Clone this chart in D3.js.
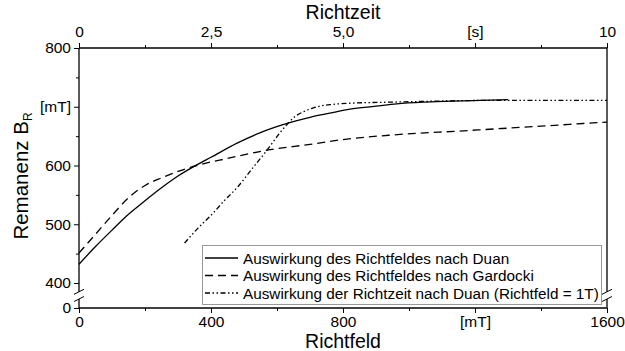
<!DOCTYPE html>
<html><head><meta charset="utf-8">
<script src="https://cdn.jsdelivr.net/npm/d3@7"></script>
<style>
body{margin:0;background:#fff;}
svg{display:block;font-family:"Liberation Sans",Arial,sans-serif;}
</style></head>
<body><svg id="c" width="625" height="351"></svg>
<script>
// Data
const fieldTicks = [0, 400, 800, 1200, 1600];
const fieldTickLabels = ["0", "400", "800", "[mT]", "1600"];
const fieldMinor = [200, 600, 1000, 1400];
const timeTicks = [0, 2.5, 5, 7.5, 10];
const timeTickLabels = ["0", "2,5", "5,0", "[s]", "10"];
const timeMinor = [1.25, 3.75, 6.25, 8.75];
const remTicks = [400, 500, 600, 700, 800];
const remTickLabels = ["400", "500", "600", "[mT]", "800"];
const remMinor = [450, 550, 650, 750];

// Auswirkung des Richtfeldes nach Duan (x: Richtfeld mT)
const duanFieldX = [0, 50, 100, 150, 200, 250, 300, 357, 400, 479, 550, 633, 700, 760, 821, 900, 963, 1050, 1164, 1300];
const duanFieldY = [432, 462, 490, 517, 540, 562, 582, 601, 614, 638, 656, 672, 682, 689, 696, 701, 705, 708, 710, 712];
// Auswirkung des Richtfeldes nach Gardocki (x: Richtfeld mT)
const gardockiX = [0, 50, 100, 150, 200, 250, 300, 357, 450, 570, 700, 812, 950, 1164, 1400, 1600];
const gardockiY = [451, 483, 515, 545, 566, 579, 590, 600, 612, 626, 636, 645, 652, 659, 667, 674];
// Auswirkung der Richtzeit nach Duan (x: Richtzeit s)
const duanTimeX = [2.0, 2.25, 2.54, 2.75, 3.0, 3.3, 3.56, 3.8, 3.96, 4.1, 4.24, 4.56, 4.8, 5.13, 6.0, 7.0, 8.0, 9.0, 10];
const duanTimeY = [468, 493, 519, 540, 563, 597, 626, 655, 672, 684, 691, 701, 704, 706, 708, 710, 711, 711, 711];

const legendLabels = [
  "Auswirkung des Richtfeldes nach Duan",
  "Auswirkung des Richtfeldes nach Gardocki",
  "Auswirkung der Richtzeit nach Duan (Richtfeld = 1T)"
];
const dashes = [null, "8,5", "5,2.5,1.5,2.5,1.5,2.5"];

const L = 79, R = 607, T = 48, B = 308;
const svg = d3.select("#c");
const x = d3.scaleLinear().domain([0, 1600]).range([L, R]);
const xt = d3.scaleLinear().domain([0, 10]).range([L, R]);
const y = d3.scaleLinear().domain([400, 800]).range([283, T]);
const yLow = d3.scaleLinear().domain([0, 10]).range([B, 302]);
const breakTop = y(385), breakBot = 299;

const line = d3.line().x(d => d[0]).y(d => d[1]).curve(d3.curveMonotoneX);
function pts(xs, ys, sx) { return xs.map((v, i) => [sx(v), y(ys[i])]); }

const series = [
  pts(duanFieldX, duanFieldY, x),
  pts(gardockiX, gardockiY, x),
  pts(duanTimeX, duanTimeY, xt)
];
series.forEach((s, i) => {
  svg.append("path").attr("d", line(s)).attr("fill", "none")
    .attr("stroke", "#000").attr("stroke-width", 1.3)
    .attr("stroke-dasharray", dashes[i]);
});

function styleAxis(g) {
  g.select(".domain").remove();
  g.selectAll(".tick line").attr("stroke", "#000").attr("stroke-width", 1);
  g.selectAll("text").attr("font-size", 15.5).attr("fill", "#000")
    .attr("font-family", "Liberation Sans, Arial, sans-serif");
}
// bottom
svg.append("g").attr("transform", `translate(0,${B})`)
  .call(d3.axisBottom(x).tickValues(fieldTicks).tickSize(5).tickPadding(3)
    .tickFormat((d, i) => fieldTickLabels[i])).call(styleAxis);
svg.append("g").attr("transform", `translate(0,${B})`)
  .call(d3.axisBottom(x).tickValues(fieldMinor).tickSize(3).tickFormat("")).call(styleAxis);
// top
svg.append("g").attr("transform", `translate(0,${T})`)
  .call(d3.axisTop(xt).tickValues(timeTicks).tickSize(5).tickPadding(6.5)
    .tickFormat((d, i) => timeTickLabels[i])).call(styleAxis);
svg.append("g").attr("transform", `translate(0,${T})`)
  .call(d3.axisTop(xt).tickValues(timeMinor).tickSize(3).tickFormat("")).call(styleAxis);
// left
svg.append("g").attr("transform", `translate(${L},0)`)
  .call(d3.axisLeft(y).tickValues(remTicks).tickSize(5).tickPadding(3)
    .tickFormat((d, i) => remTickLabels[i])).call(styleAxis);
svg.append("g").attr("transform", `translate(${L},0)`)
  .call(d3.axisLeft(y).tickValues(remMinor).tickSize(3).tickFormat("")).call(styleAxis);
svg.append("g").attr("transform", `translate(${L},0)`)
  .call(d3.axisLeft(yLow).tickValues([0]).tickSize(5).tickPadding(3).tickFormat(d3.format("d"))).call(styleAxis);

// axis lines
const ax = svg.append("g").attr("stroke", "#000").attr("stroke-width", 1.3).attr("fill", "none");
ax.append("line").attr("x1", L).attr("x2", R).attr("y1", T).attr("y2", T);
ax.append("line").attr("x1", L).attr("x2", R).attr("y1", B).attr("y2", B);
[L, R].forEach(xx => {
  ax.append("line").attr("x1", xx).attr("x2", xx).attr("y1", T).attr("y2", breakTop);
  ax.append("line").attr("x1", xx).attr("x2", xx).attr("y1", breakBot).attr("y2", B);
  [breakTop, breakBot].forEach(yy => {
    ax.append("line").attr("x1", xx - 5).attr("y1", yy + 2.5).attr("x2", xx + 5).attr("y2", yy - 2.5)
      .attr("stroke-width", 1);
  });
});

// titles
svg.append("text").attr("x", (L + R) / 2).attr("y", 18.5).attr("text-anchor", "middle")
  .attr("font-size", 19.5).text("Richtzeit");
svg.append("text").attr("x", (L + R) / 2).attr("y", 348).attr("text-anchor", "middle")
  .attr("font-size", 19.5).text("Richtfeld");
const yt = svg.append("text").attr("transform", `translate(28,176) rotate(-90)`)
  .attr("text-anchor", "middle").attr("font-size", 20.5);
yt.append("tspan").text("Remanenz B");
yt.append("tspan").attr("font-size", 12).attr("dy", 4).text("R");

// legend
const lg = svg.append("g");
lg.append("rect").attr("x", 202.5).attr("y", 245.5).attr("width", 399).attr("height", 59)
  .attr("fill", "#fff").attr("stroke", "#999").attr("stroke-width", 1);
legendLabels.forEach((t, i) => {
  const yy = 258 + i * 17.5;
  lg.append("line").attr("x1", 205).attr("x2", 238).attr("y1", yy).attr("y2", yy)
    .attr("stroke", "#000").attr("stroke-width", 1.3).attr("stroke-dasharray", dashes[i]);
  lg.append("text").attr("x", 243).attr("y", yy + 5.5).attr("font-size", 15.3).text(t);
});
</script></body></html>
